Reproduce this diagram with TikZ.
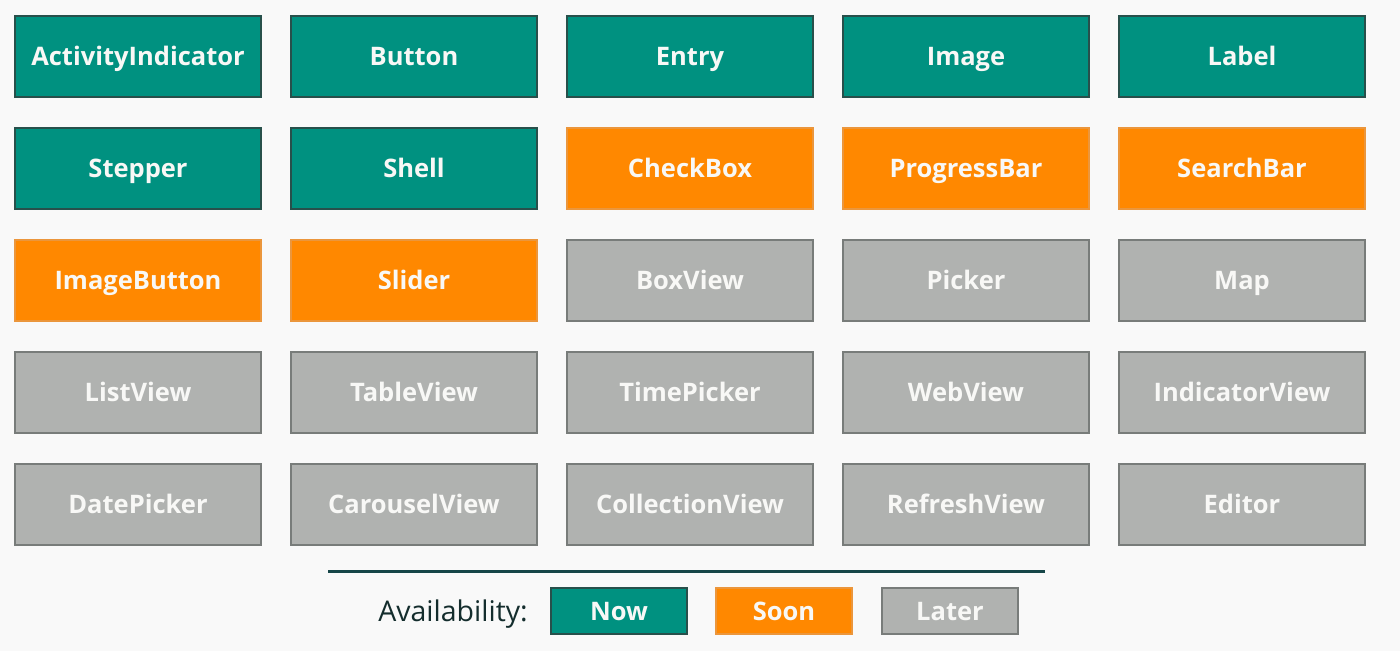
\documentclass[tikz,border=0pt]{standalone}
\usepackage{fontspec}
\setmainfont{Open Sans}
\definecolor{nowfill}{RGB}{0,145,128}
\definecolor{nowline}{RGB}{40,80,75}
\definecolor{soonfill}{RGB}{255,136,0}
\definecolor{soonline}{RGB}{235,150,60}
\definecolor{laterfill}{RGB}{176,178,176}
\definecolor{laterline}{RGB}{120,124,122}
\definecolor{labeltext}{RGB}{248,248,246}
\definecolor{bgcol}{RGB}{249,249,249}
\definecolor{ruleline}{RGB}{22,70,72}
\definecolor{legendtext}{RGB}{20,45,45}
\begin{document}
\begin{tikzpicture}[x=1pt,y=-1pt,
  ctrl/.style={minimum width=246pt,minimum height=81pt,inner sep=0pt,
    line width=1.2pt,text=labeltext,font=\bfseries\fontsize{25.5}{30}\selectfont,
    text height=18.2pt,text depth=0pt},
  now/.style={ctrl,fill=nowfill,draw=nowline},
  soon/.style={ctrl,fill=soonfill,draw=soonline},
  later/.style={ctrl,fill=laterfill,draw=laterline},
  key/.style={minimum width=136pt,minimum height=46pt}]
\fill[bgcol] (0,0) rectangle (1400,651);
\useasboundingbox (0,0) rectangle (1400,651);
% row 1
\node[now] (activity) at (138,56.5) {ActivityIndicator};
\node[now] (button) at (414,56.5) {Button};
\node[now] (entry) at (690,56.5) {Entry};
\node[now] (image) at (966,56.5) {Image};
\node[now] (label) at (1242,56.5) {Label};
% row 2
\node[now] (stepper) at (138,168.5) {Stepper};
\node[now] (shell) at (414,168.5) {Shell};
\node[soon] (checkbox) at (690,168.5) {CheckBox};
\node[soon] (progress) at (966,168.5) {ProgressBar};
\node[soon] (search) at (1242,168.5) {SearchBar};
% row 3
\node[soon] (imagebutton) at (138,280.5) {ImageButton};
\node[soon] (slider) at (414,280.5) {Slider};
\node[later] (boxview) at (690,280.5) {BoxView};
\node[later] (picker) at (966,280.5) {Picker};
\node[later] (map) at (1242,280.5) {Map};
% row 4
\node[later] (listview) at (138,392.5) {ListView};
\node[later] (tableview) at (414,392.5) {TableView};
\node[later] (timepicker) at (690,392.5) {TimePicker};
\node[later] (webview) at (966,392.5) {WebView};
\node[later] (indicatorview) at (1242,392.5) {IndicatorView};
% row 5
\node[later] (datepicker) at (138,504.5) {DatePicker};
\node[later] (carousel) at (414,504.5) {CarouselView};
\node[later] (collection) at (690,504.5) {CollectionView};
\node[later] (refresh) at (966,504.5) {RefreshView};
\node[later] (editor) at (1242,504.5) {Editor};
% legend
\coordinate (ruleL) at (328,571);
\coordinate (ruleR) at (1045,571);
\draw[ruleline,line width=3pt] (ruleL) -- (ruleR);
\node[anchor=east,inner sep=0pt,text=legendtext,font=\fontsize{28.5}{32}\selectfont,
  text height=20.3pt,text depth=0pt] (avail) at (528,611) {Availability:};
\node[now,key] (keynow) at (619,611) {Now};
\node[soon,key] (keysoon) at (784,611) {Soon};
\node[later,key] (keylater) at (950,611) {Later};
\end{tikzpicture}
\end{document}
